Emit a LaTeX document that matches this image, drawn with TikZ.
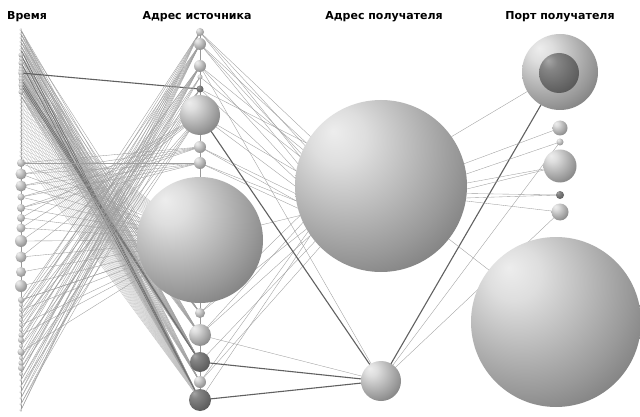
\documentclass[tikz,border=0pt]{standalone}
\usepackage{fontspec}
\newfontfamily\lblfont{DejaVu Sans}
\pgfdeclarelayer{bg}
\pgfsetlayers{bg,main}
\pgfdeclareradialshading{sph}{\pgfpoint{-14bp}{16bp}}{color(0bp)=(black!7); color(8bp)=(black!13); color(30bp)=(black!40); color(50bp)=(black!67); color(62bp)=(black!79); color(74bp)=(black!85)}
\pgfdeclareradialshading{sphd}{\pgfpoint{-14bp}{16bp}}{color(0bp)=(black!35); color(10bp)=(black!48); color(40bp)=(black!68); color(62bp)=(black!84); color(74bp)=(black!88)}
\tikzset{
  ball/.style={circle, inner sep=0pt, outer sep=0pt, shading=sph, minimum size=#1},
  dball/.style={circle, inner sep=0pt, outer sep=0pt, shading=sphd, minimum size=#1},
  ln/.style={draw=black!38, line width=0.35pt},
  fln/.style={draw=black!25, line width=0.3pt},
  mln/.style={draw=black!55, line width=0.7pt},
  dln/.style={draw=black!62, line width=1.1pt},
  axl/.style={draw=black!40, line width=0.4pt},
  lbl/.style={font=\lblfont\bfseries\fontsize{11}{13}\selectfont, inner sep=0pt}
}
\begin{document}
\begin{tikzpicture}[x=1pt,y=-1pt]
\useasboundingbox (0,0) rectangle (640,417);
% labels
\node[lbl, anchor=west] (lt) at (7,17) {Время};
\node[lbl] (ls) at (197,17) {Адрес источника};
\node[lbl] (ld) at (384,17) {Адрес получателя};
\node[lbl] (lp) at (560,17) {Порт получателя};
% time axis
\foreach \y/\d in {30/3,34/3,38/3,42/3,46/3,50/3.5,55/5,59/4,63/5,67/4,70/5,73/5.5,76/4,79/5,82/4,85/5,88/4,92/5,96/3,100/2.5,104/2.5,108/2.5,112/2.5,116/2.5,120/2.5,124/2.5,128/2.5,132/2.5,136/2.5,140/2.5,144/2.5,148/2.5,152/3,156/3,163/8,174/11,186/11,197/7,208/8,218/8,228/9,241/12,257/11,272/10,286/12,300/6,305/4,310/4,315/4,320/4,325/4,330/4,335/5,340/6,346/4,352/7,358/4,363/5,368/6,374/4,380/3,386/3,392/3,398/3,404/3,410/3}
  \node[ball=\d pt] (t\y) at (21,\y) {};
% source axis
\foreach \y/\d in {32/8,44/12,66/12,77/5,115/40,147/12,163/12,240/126,313/10,335/22,382/12}
  \node[ball=\d pt] (s\y) at (200,\y) {};
\foreach \y/\d in {89/7,362/20,400/22}
  \node[dball=\d pt] (s\y) at (200,\y) {};
% destination axis
\node[ball=172pt] (d186) at (381,186) {};
\node[ball=40pt] (d381) at (381,381) {};
% port axis
\node[ball=76pt] (p72) at (560,72) {};
\node[dball=40pt] (p72i) at (559,73) {};
\foreach \y/\d in {128/15,142/7,166/33,212/17}
  \node[ball=\d pt] (p\y) at (560,\y) {};
\node[dball=8pt] (p195) at (560,195) {};
\node[ball=170pt] (p322) at (556,322) {};
\begin{pgfonlayer}{bg}
  \fill[white] (0,0) rectangle (640,417);
  \draw[axl] (t30.center) -- (t410.center);
  \draw[axl] (s32.center) -- (s400.center);
  % group A: time top -> source bottom
  \foreach \a in {30,34,38,42,46,50,55,59,63,67,70,73,76,79,82,85,88,92,96}
    {\draw[ln] (t\a.center) -- (s400.center); \draw[ln] (t\a.center) -- (s362.center);}
  \foreach \a in {30,38,46,55,63,70,76,82,88,96}
    {\draw[ln] (t\a.center) -- (s382.center); \draw[ln] (t\a.center) -- (s335.center);}
  \foreach \a in {34,42,50,59,67,73,79,85,92}
    \draw[ln] (t\a.center) -- (s313.center);
  \foreach \a in {100,104,108,112,116,120,124,128,132,136,140,144,148,152,156}
    {\draw[fln] (t\a.center) -- (s400.center); \draw[fln] (t\a.center) -- (s240.center);}
  \foreach \a/\b in {55/400,63/400,50/400,79/362,85/362,82/362}
    \draw[mln] (t\a.center) -- (s\b.center);
  \draw[dln] (t73.center) -- (s89.center);
  % group B: time middle -> source
  \foreach \a in {163,174,186,197,208,218,228,241,257,272,286,300}
    \draw[ln] (t\a.center) -- (s240.center);
  \foreach \a in {163,174,186,197,208}
    {\draw[ln] (t\a.center) -- (s147.center); \draw[ln] (t\a.center) -- (s163.center);}
  \foreach \a in {218,228,241,257}
    \draw[ln] (t\a.center) -- (s115.center);
  % group C: time bottom -> source top
  \foreach \a/\b/\c in {300/44/240,305/32/66,310/66/240,315/44/89,320/32/115,325/66/240,330/44/77,335/89/240,340/32/66,346/44/115,352/66/240,358/32/89,363/44/77,368/66/115,374/32/44,380/89/66,386/44/115,392/32/66,398/77/44,404/66/89,410/32/44}
    {\draw[ln] (t\a.center) -- (s\b.center); \draw[ln] (t\a.center) -- (s\c.center);}
  % source -> destination
  \foreach \a/\ang in {32/145,32/160,44/150,44/165,66/155,66/170,77/160,89/150,89/175,115/170,115/180,147/185,147/190,163/190,163/195,240/200,313/210,335/205,335/215,362/220,382/225,400/215,32/152,44/158,313/200,382/212}
    \draw[ln] (s\a.center) -- (d186.\ang);
  \draw[ln] (s66.center) -- (d381.center);
  \draw[ln] (s335.center) -- (d381.center);
  \draw[dln] (s115.center) -- (d381.center);
  \draw[dln] (s362.center) -- (d381.center);
  \draw[dln] (s400.center) -- (d381.center);
  % destination -> port
  \draw[dln] (d381.center) -- (p72.center);
  \draw[ln] (d381.center) -- (p142.center);
  \draw[ln] (d381.center) -- (p212.center);
  \foreach \p/\ang in {72/35,128/15,142/8,166/2,195/-5,212/-10,322/-38,166/-2,195/-8}
    \draw[ln] (d186.\ang) -- (p\p.center);
\end{pgfonlayer}
\end{tikzpicture}
\end{document}
